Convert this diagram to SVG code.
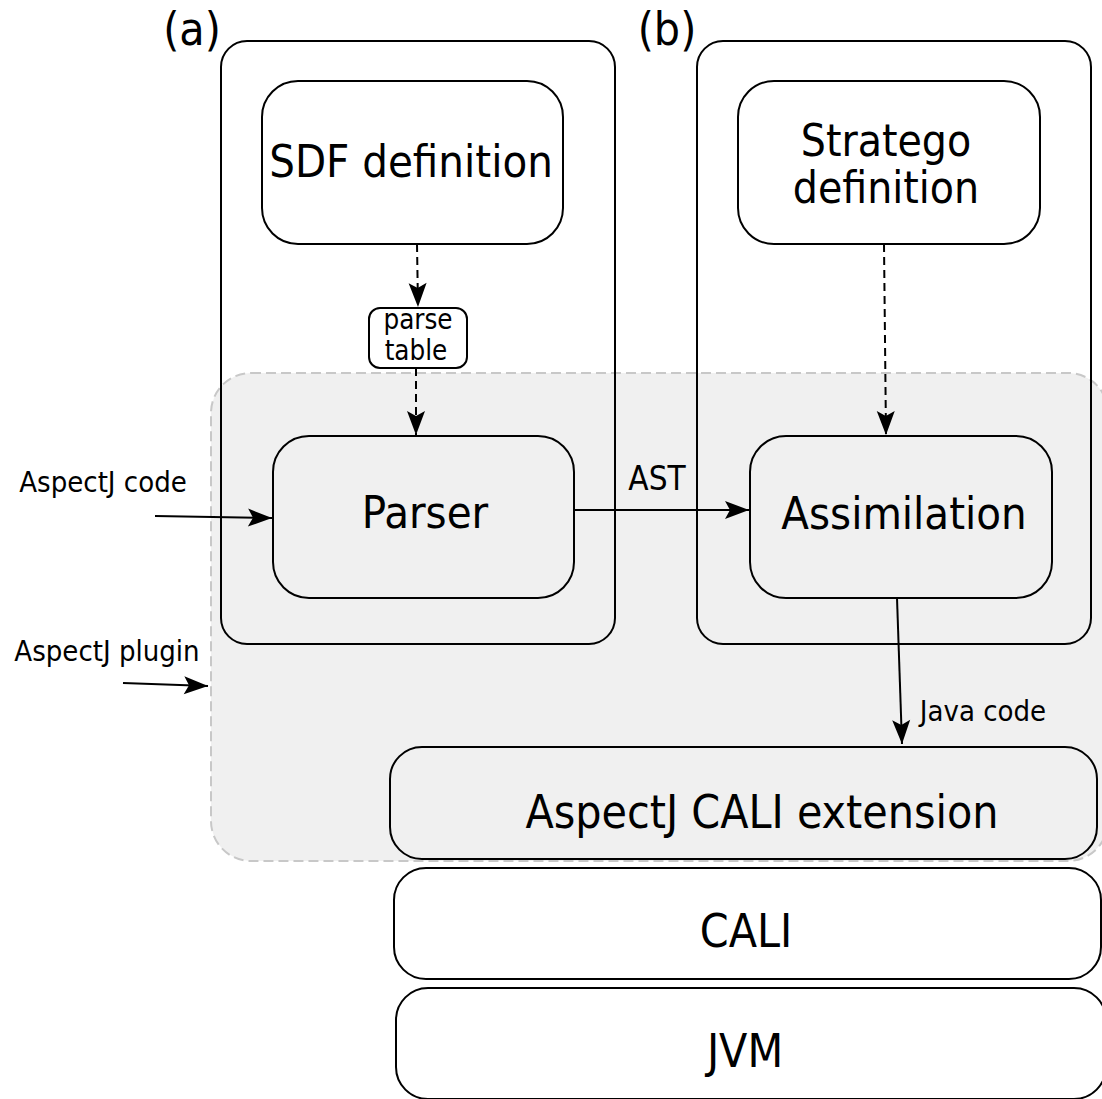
<svg xmlns="http://www.w3.org/2000/svg" width="1102" height="1099" viewBox="0 0 1102 1099">
<style>
.box{fill:none;stroke:#000;stroke-width:2}
.wbox{fill:#fff;stroke:#000;stroke-width:2}
.gbox{fill:#f0f0f0;stroke:#000;stroke-width:2}
.edge{fill:none;stroke:#000;stroke-width:2}
.dash{stroke-dasharray:8 5}
text{font-family:"DejaVu Sans Condensed","DejaVu Sans",sans-serif;fill:#000;text-anchor:middle}
.big{font-size:45px}
.small{font-size:29px}
</style>
<defs>
<marker id="arr" viewBox="-26 -10 28 20" refX="0" refY="0" markerWidth="28" markerHeight="20" markerUnits="userSpaceOnUse" orient="auto">
<path d="M0,0 L-24,-9 L-19,0 L-24,9 Z" fill="#000"/>
</marker>
</defs>
<g id="plugin-region">
<rect x="211" y="373" width="897" height="488" rx="40" ry="40" fill="#f0f0f0" stroke="#c8c8c8" stroke-width="2" stroke-dasharray="10 5"/>
</g>
<g id="group-a">
<rect class="box" x="221" y="41" width="394" height="603" rx="26" ry="26"/>
<text x="192" y="45" style="font-size:46px">(a)</text>
</g>
<g id="group-b">
<rect class="box" x="697" y="41" width="394" height="603" rx="26" ry="26"/>
<text x="667" y="45" style="font-size:46px">(b)</text>
</g>
<g id="sdf">
<rect class="wbox" x="262" y="81" width="301" height="163" rx="36" ry="36"/>
<text class="big" x="411" y="177">SDF definition</text>
</g>
<g id="stratego">
<rect class="wbox" x="738" y="81" width="302" height="163" rx="36" ry="36"/>
<text x="886" y="156" style="font-size:44px">Stratego</text>
<text x="886" y="203" style="font-size:44px">definition</text>
</g>
<g id="parse-table">
<rect class="wbox" x="369" y="308" width="98" height="60" rx="11" ry="11"/>
<text x="418" y="329" style="font-size:27.5px">parse</text>
<text x="416" y="360" style="font-size:27.5px">table</text>
</g>
<g id="parser">
<rect class="box" x="273" y="436" width="301" height="162" rx="36" ry="36"/>
<text class="big" x="425" y="528">Parser</text>
</g>
<g id="assimilation">
<rect class="box" x="750" y="436" width="302" height="162" rx="36" ry="36"/>
<text class="big" x="904" y="529">Assimilation</text>
</g>
<g id="aspectj-cali-extension">
<rect class="gbox" x="390" y="747" width="707" height="112" rx="32" ry="32"/>
<text x="762" y="828" style="font-size:46px">AspectJ CALI extension</text>
</g>
<g id="cali">
<rect class="wbox" x="394" y="868" width="707" height="111" rx="32" ry="32"/>
<text x="746" y="947" style="font-size:46px">CALI</text>
</g>
<g id="jvm">
<rect class="wbox" x="396" y="988" width="710" height="111" rx="32" ry="32"/>
<text x="745" y="1067" style="font-size:46px">JVM</text>
</g>
<g id="labels">
<text class="small" x="103" y="492">AspectJ code</text>
<text class="small" x="107" y="661">AspectJ plugin</text>
</g>
<g id="connectors">
<path class="edge dash" d="M417,244 L418,307" marker-end="url(#arr)"/>
<path class="edge dash" d="M416,368 L416,435" marker-end="url(#arr)"/>
<path class="edge dash" d="M884,244 L886,435" marker-end="url(#arr)"/>
<path class="edge" d="M574,510 L749,510" marker-end="url(#arr)"/>
<text x="657" y="490" style="font-size:33px">AST</text>
<path class="edge" d="M155,516 L272,518" marker-end="url(#arr)"/>
<path class="edge" d="M123,683 L208,686" marker-end="url(#arr)"/>
<path class="edge" d="M897,598 L902,744" marker-end="url(#arr)"/>
<text x="983" y="721" style="font-size:29px">Java code</text>
</g>
</svg>
